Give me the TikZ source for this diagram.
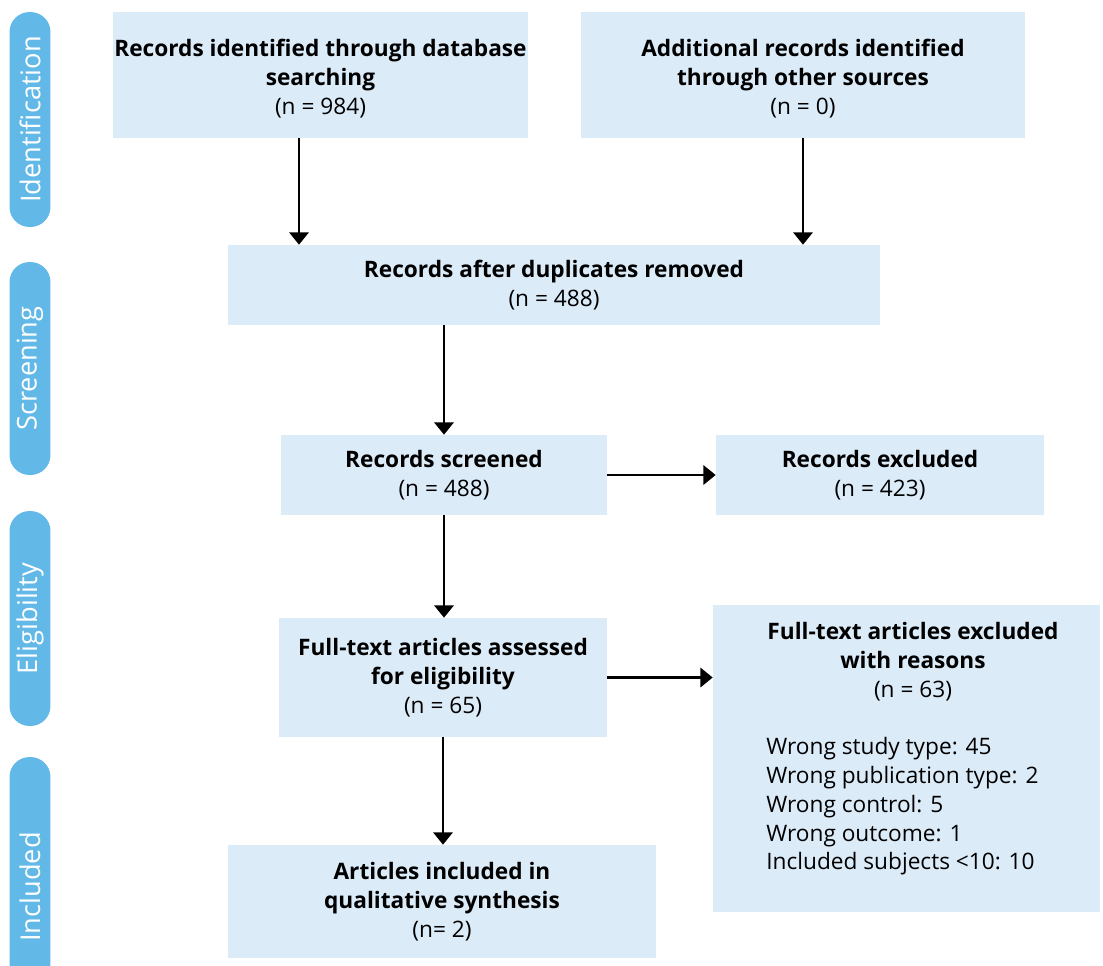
\documentclass[tikz,border=0pt]{standalone}
\usepackage{fontspec}
\setmainfont{Open Sans}
\usetikzlibrary{arrows.meta}
\definecolor{boxfill}{HTML}{DCEBF8}
\definecolor{stage}{HTML}{62B9E8}
\newcommand{\boxfont}{\fontsize{12.9}{16.4}\selectfont}
\tikzset{
  >={Triangle[length=7pt,width=11pt]},
  box/.style={fill=boxfill,inner sep=0pt,align=center,font=\boxfont},
  stagebar/.style={fill=stage,rounded corners=0.4cm,minimum height=0.82cm,inner sep=0pt,
    rotate=90,text=white,font=\fontsize{15.5}{17}\selectfont},
  flow/.style={->,line width=1.4pt},
}

\begin{document}
\begin{tikzpicture}[x=0.02cm,y=-0.02cm]
  \useasboundingbox (0,0) rectangle (1103,965);
  \clip (0,0) rectangle (1103,965);
  % stage labels
  \node[stagebar,minimum width=4.30cm] (ident) at (30,119.5) {Identification};
  \node[stagebar,minimum width=4.26cm] (screen) at (30,368.5) {Screening};
  \node[stagebar,minimum width=4.30cm] (elig) at (30,618.5) {Eligibility};
  \node[stagebar,minimum width=5.20cm] (incl) at (30,887) {Included};
  % boxes
  \node[box,minimum width=8.30cm,minimum height=2.52cm] (dbsearch) at (320.5,75)
    {\rule{0pt}{14pt}\textbf{Records identified through database}\\\textbf{searching}\\(n = 984)};
  \node[box,minimum width=8.88cm,minimum height=2.52cm] (othersrc) at (803,75)
    {\rule{0pt}{14pt}\textbf{Additional records identified}\\\textbf{through other sources}\\(n = 0)};
  \node[box,minimum width=13.04cm,minimum height=1.60cm] (dedup) at (554,285)
    {\textbf{Records after duplicates removed}\\(n = 488)};
  \node[box,minimum width=6.52cm,minimum height=1.60cm] (screened) at (444,475)
    {\textbf{Records screened}\\(n = 488)};
  \node[box,minimum width=6.56cm,minimum height=1.60cm] (excluded) at (880,475)
    {\textbf{Records excluded}\\(n = 423)};
  \node[box,minimum width=6.56cm,minimum height=2.38cm] (fulltext) at (443,677.5)
    {\textbf{Full-text articles assessed}\\\textbf{for eligibility}\\(n = 65)};
  \node[box,minimum width=7.74cm,minimum height=6.14cm] (reasons) at (906.5,758.5) {};
  \node[align=center,font=\boxfont,inner sep=0pt,anchor=north] (reasonshead) at (913,622)
    {\textbf{Full-text articles excluded}\\\textbf{with reasons}\\(n = 63)};
  \node[align=left,font=\boxfont,inner sep=0pt,anchor=north west] (reasonslist) at (766,737)
    {Wrong study type: 45\\Wrong publication type: 2\\Wrong control: 5\\Wrong outcome: 1\\Included subjects <10: 10};
  \node[box,minimum width=8.56cm,minimum height=2.26cm] (included) at (442,901.5)
    {\textbf{Articles included in}\\\textbf{qualitative synthesis}\\(n= 2)};
  % arrows
  \draw[flow] ([xshift=-0.43cm]dbsearch.south) -- ([xshift=-0.43cm]dbsearch.south |- dedup.north);
  \draw[flow] (othersrc.south) -- (othersrc.south |- dedup.north);
  \draw[flow] (screened.north |- dedup.south) -- (screened.north);
  \draw[flow] (screened) ++(3.26cm,0) -- (excluded.west);
  \draw[flow] (screened.south) -- (screened.south |- fulltext.north);
  \draw[flow] (fulltext.east) -- (fulltext.east -| reasons.west);
  \draw[flow] (fulltext.south) -- (fulltext.south |- included.north);
\end{tikzpicture}
\end{document}
